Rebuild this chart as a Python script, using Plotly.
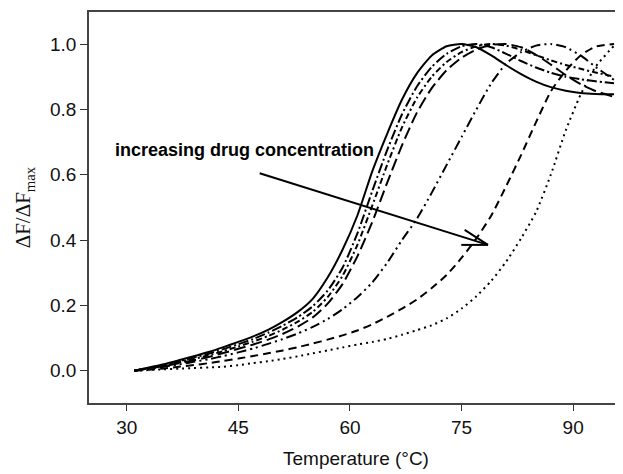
import plotly.graph_objects as go

# Temperature grid (°C)
temperature = [31, 33, 35, 37, 39, 41, 43, 45, 47, 49, 51, 53, 55, 57, 59, 61, 63,
               65, 67, 69, 71, 73, 75, 77, 79, 81, 83, 85, 87, 89, 91, 93, 95.5]

# Normalised fluorescence, ΔF/ΔFmax, for increasing drug concentration
curve_a = [0, .01, .02, .032, .044, .057, .072, .088, .105, .125, .15, .18, .22, .285, .37,
           .475, .61, .725, .83, .91, .965, .993, 1.0, .99, .965, .935, .908, .885, .868,
           .857, .85, .847, .846]
curve_b = [0, .009, .018, .029, .04, .052, .066, .081, .097, .116, .138, .164, .197, .245, .315,
           .42, .55, .675, .785, .87, .93, .97, .993, 1.0, .99, .97, .948, .928, .912, .9,
           .892, .886, .88]
curve_c = [0, .008, .016, .026, .036, .047, .06, .074, .089, .106, .126, .15, .18, .225, .29,
           .385, .505, .63, .745, .835, .9, .945, .975, .993, 1.0, .995, .982, .966, .95,
           .936, .924, .913, .9]
curve_d = [0, .007, .014, .023, .032, .042, .054, .067, .08, .095, .113, .135, .163, .205, .265,
           .35, .455, .575, .69, .79, .865, .92, .958, .983, .997, 1.0, .99, .967, .937,
           .905, .877, .856, .838]
curve_e = [0, .006, .012, .019, .027, .035, .045, .056, .068, .082, .097, .114, .134, .158, .188,
           .225, .27, .33, .4, .465, .545, .63, .715, .8, .88, .94, .975, .995, 1.0, .99,
           .965, .93, .89]
curve_f = [0, .003, .007, .012, .017, .023, .03, .037, .045, .053, .062, .072, .083, .095, .108,
           .123, .142, .165, .19, .218, .253, .293, .345, .405, .475, .565, .66, .76, .855,
           .918, .965, .992, 1.0]
curve_g = [0, .002, .004, .006, .008, .01, .012, .017, .023, .029, .036, .044, .053, .062, .071,
           .08, .088, .097, .11, .124, .139, .16, .19, .228, .275, .334, .405, .485, .6,
           .735, .845, .93, .995]

x_ticks = [30, 45, 60, 75, 90]
y_ticks = [0.0, 0.2, 0.4, 0.6, 0.8, 1.0]
y_tick_text = ["0.0", "0.2", "0.4", "0.6", "0.8", "1.0"]

series = [
    (curve_a, "solid"),
    (curve_b, "10px,3px,2px,3px"),
    (curve_c, "6px,3px,2px,3px"),
    (curve_d, "12px,5px"),
    (curve_e, "10px,4px,2px,4px,2px,4px"),
    (curve_f, "8px,5px"),
    (curve_g, "2px,4px"),
]

X_RANGE = [24.93, 96.7]
Y_RANGE = [-0.099, 1.098]
W, H = 615, 466
M = dict(l=81, r=0, t=4, b=71)

fig = go.Figure()
for vals, dash in series:
    fig.add_trace(go.Scatter(
        x=temperature, y=vals, mode="lines",
        line=dict(color="black", width=2, dash=dash, shape="spline", smoothing=0.6),
        showlegend=False, hoverinfo="skip"))

axis_font = dict(family="Liberation Sans, Arial, sans-serif", size=19, color="#111")

fig.update_layout(
    width=W, height=H,
    margin=M,
    paper_bgcolor="white", plot_bgcolor="white",
    font=axis_font,
    xaxis=dict(range=X_RANGE, tickvals=x_ticks, ticks="outside", ticklen=6,
               tickwidth=1.3, tickcolor="#333", showline=True, linecolor="#444",
               linewidth=1.5, mirror=True, showgrid=False, zeroline=False,
               tickfont=axis_font,
               title=dict(text="Temperature (°C)", font=axis_font, standoff=15)),
    yaxis=dict(range=Y_RANGE, tickvals=y_ticks, ticktext=y_tick_text,
               ticks="outside", ticklen=7, tickwidth=1.3, tickcolor="#333",
               showline=True, linecolor="#444", linewidth=1.5, mirror=False,
               showgrid=False, zeroline=False, tickfont=axis_font),
)

# y-axis title (serif, with subscript)
fig.add_annotation(xref="paper", yref="paper", x=-0.122, y=0.5, xanchor="center",
                   yanchor="middle", showarrow=False, textangle=-90,
                   text="ΔF/ΔF<sub>max</sub>",
                   font=dict(family="Liberation Serif, Times New Roman, serif", size=21,
                             color="#111"))

# Label
fig.add_annotation(x=28.2, y=0.6755, xanchor="left", yanchor="middle", showarrow=False,
                   text="<b>increasing drug concentration</b>",
                   font=dict(family="Liberation Sans, Arial, sans-serif", size=18,
                             color="black"))

# Arrow (shaft + open head) drawn as line shapes; offsets given in pixels
px_per_x = (W - M["l"] - M["r"]) / (X_RANGE[1] - X_RANGE[0])
px_per_y = (H - M["t"] - M["b"]) / (Y_RANGE[1] - Y_RANGE[0])
tip_x, tip_y = 78.55, 0.385
for dx, dy in [(-228.3, -71.7), (-26.7, 0.0), (-23.3, -15.0)]:
    fig.add_shape(type="line", xref="x", yref="y",
                  x0=tip_x + dx / px_per_x, y0=tip_y - dy / px_per_y,
                  x1=tip_x, y1=tip_y,
                  line=dict(color="black", width=2))

fig.write_html("out.html")
